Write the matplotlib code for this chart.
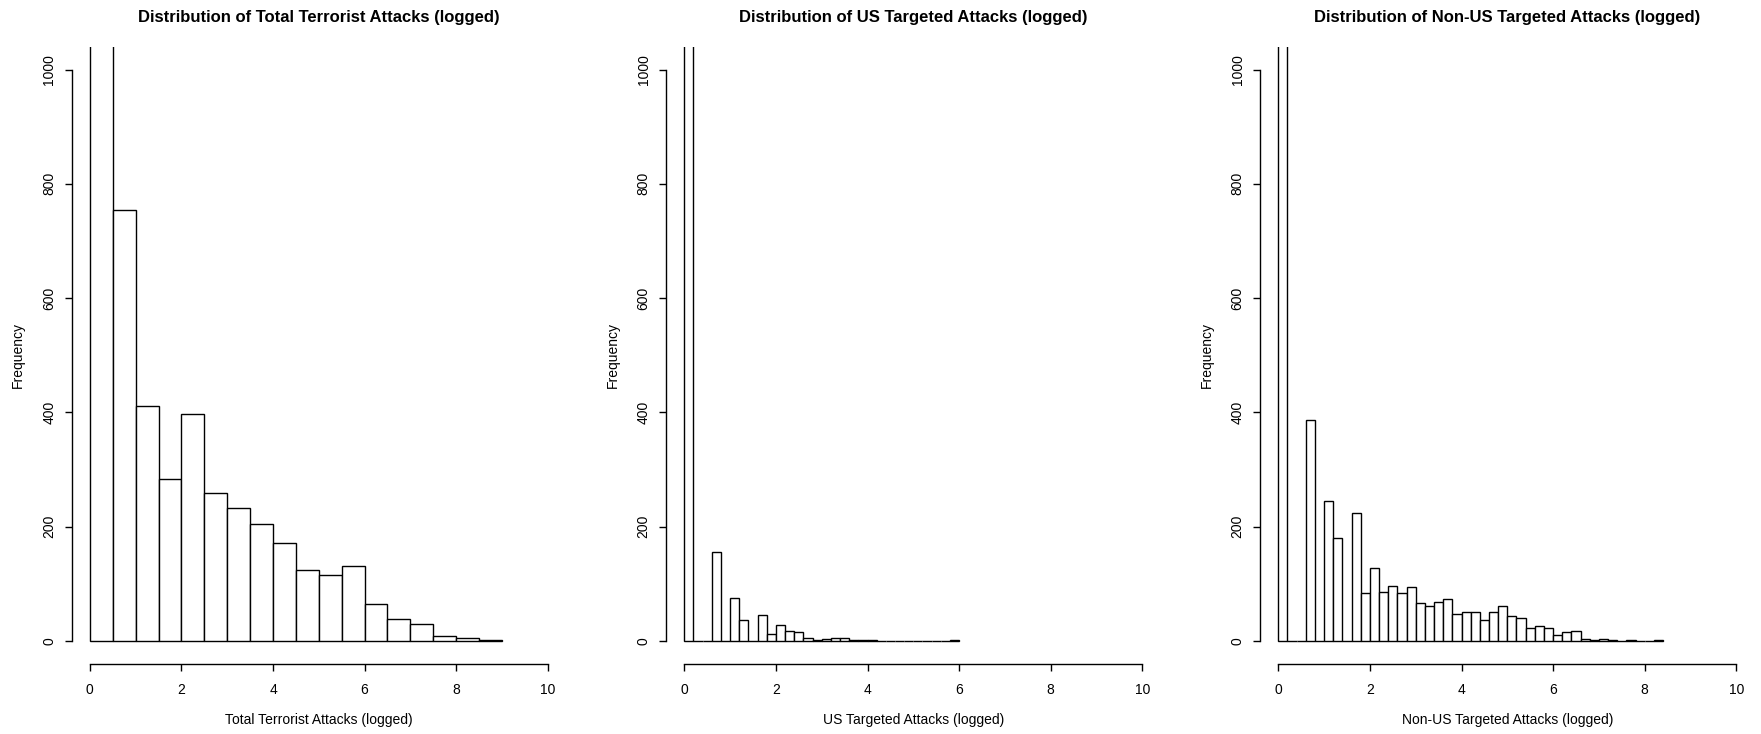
import numpy as np
import matplotlib.pyplot as plt

plt.rcParams['font.family'] = ['Liberation Sans', 'DejaVu Sans']

titles = ['Distribution of Total Terrorist Attacks (logged)',
          'Distribution of US Targeted Attacks (logged)',
          'Distribution of Non-US Targeted Attacks (logged)']
xlabels = ['Total Terrorist Attacks (logged)',
           'US Targeted Attacks (logged)',
           'Non-US Targeted Attacks (logged)']

# histogram counts per bin, bins start at 0
total_counts = [1770, 755, 412, 283, 398, 259, 232, 205, 172, 125, 116, 132,
                64, 39, 29, 9, 5, 2]
us_counts = [4580, 0, 0, 155, 0, 75, 37, 0, 46, 13, 28, 18, 15, 6, 2, 4, 6, 6,
             2, 1, 1, 0, 0, 0, 0, 0, 0, 0, 0, 1]
nonus_counts = [2480, 0, 0, 387, 0, 245, 181, 0, 224, 84, 127, 86, 97, 84, 95,
                67, 61, 68, 73, 48, 51, 51, 36, 51, 62, 44, 40, 22, 26, 22,
                11, 15, 18, 4, 2, 4, 2, 0, 2, 0, 0, 1]
bin_widths = [0.5, 0.2, 0.2]
all_counts = [total_counts, us_counts, nonus_counts]

xticks = [0, 2, 4, 6, 8, 10]
yticks = [0, 200, 400, 600, 800, 1000]

W, H = 1761, 734
fig = plt.figure(figsize=(W / 100, H / 100), dpi=100)

# plot regions in pixels
lefts = [71.5, 666.0, 1260.0]
pw = 494.6
top, bottom = 46.7, 663.9
ph = bottom - top

for i in range(3):
    ax = fig.add_axes([lefts[i] / W, (H - bottom) / H, pw / W, ph / H])
    counts = all_counts[i]
    bw = bin_widths[i]
    starts = np.arange(len(counts)) * bw
    ax.bar(starts, counts, width=bw, align='edge', facecolor='white',
           edgecolor='black', linewidth=1.0)

    ax.set_xlim(-0.4, 10.4)
    ax.set_ylim(-40, 1040)
    for s in ['top', 'right']:
        ax.spines[s].set_visible(False)
    ax.spines['left'].set_bounds(0, 1000)
    ax.spines['bottom'].set_bounds(0, 10)
    ax.spines['left'].set_linewidth(1.0)
    ax.spines['bottom'].set_linewidth(1.0)

    ax.set_xticks(xticks, [str(v) for v in xticks])
    ax.set_yticks(yticks, [str(v) for v in yticks], rotation=90, va='center')
    ax.tick_params(direction='out', length=5, width=1.0, labelsize=10,
                   colors='black')
    ax.tick_params(axis='x', pad=9)
    ax.tick_params(axis='y', pad=6)

    ax.set_title(titles[i], fontsize=12, fontweight='bold',
                 y=(ph + 46.7 - 17) / ph, pad=0, va='center')
    ax.set_xlabel(xlabels[i], fontsize=10)
    ax.xaxis.set_label_coords(0.5, -56 / ph)
    ax.xaxis.label.set_va('center')
    ax.set_ylabel('Frequency', fontsize=10)
    ax.yaxis.set_label_coords(-53.2 / pw, 0.5)
    ax.yaxis.label.set_va('center')

fig.savefig('out.png', dpi=100, facecolor='white')
